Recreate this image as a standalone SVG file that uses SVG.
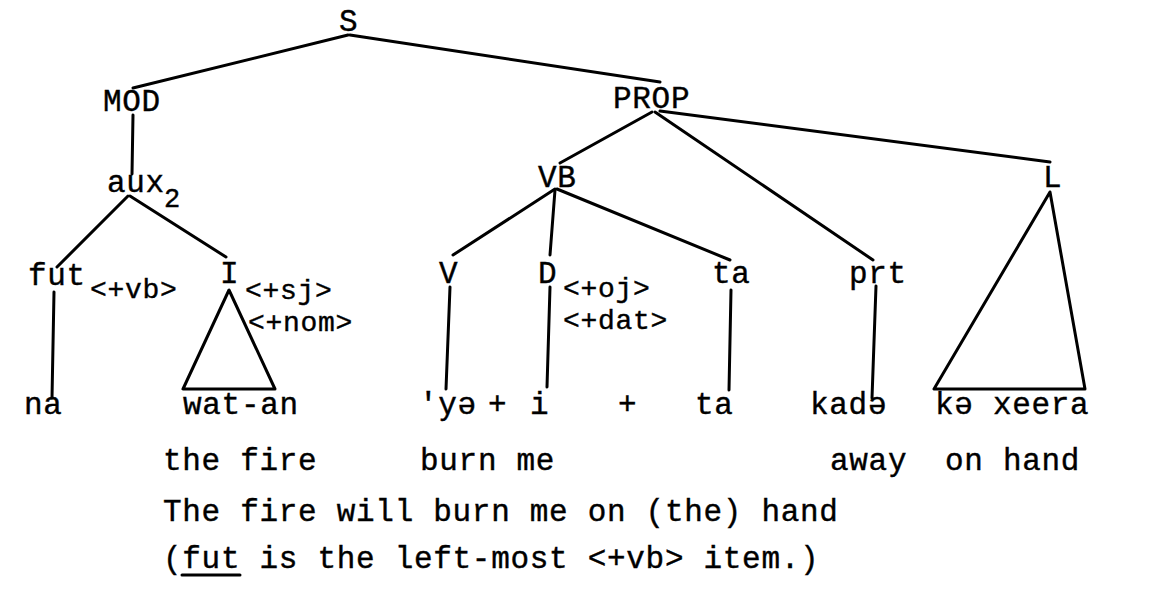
<svg xmlns="http://www.w3.org/2000/svg" width="1150" height="608" viewBox="0 0 1150 608">
<style>
text{font-family:"Liberation Mono","DejaVu Sans Mono",monospace;font-size:31px;letter-spacing:0.7px;fill:#000;stroke:#000;stroke-width:0.4}
.sub{font-size:27px}
.f{font-size:28px;letter-spacing:0.7px}
.e{stroke:#000;stroke-width:3;fill:none;stroke-linecap:round;stroke-linejoin:round}
</style>
<rect width="1150" height="608" fill="#fff"/>
<g id="connectors" class="e">
<line x1="348" y1="35" x2="133" y2="88"/>
<line x1="350" y1="35" x2="660" y2="82"/>
<line x1="133" y1="115" x2="132" y2="174"/>
<line x1="128" y1="196" x2="57" y2="267"/>
<line x1="130" y1="196" x2="226" y2="257"/>
<line x1="54" y1="292" x2="52" y2="398"/>
<polygon points="229,290 183,389 275,389"/>
<line x1="652" y1="112" x2="560" y2="163"/>
<line x1="655" y1="112" x2="873" y2="260"/>
<line x1="660" y1="111" x2="1050" y2="162"/>
<line x1="555" y1="189" x2="453" y2="255"/>
<line x1="555" y1="190" x2="550" y2="255"/>
<line x1="557" y1="189" x2="730" y2="260"/>
<line x1="450" y1="287" x2="446" y2="389"/>
<line x1="550" y1="287" x2="547" y2="387"/>
<line x1="731" y1="290" x2="729" y2="390"/>
<line x1="876" y1="286" x2="872" y2="398"/>
<polygon points="1050,192 934,389 1085,389"/>
<line x1="182" y1="575" x2="240" y2="575"/>
</g>
<g id="n-S"><text x="339" y="31">S</text></g>
<g id="n-MOD"><text x="103" y="111">MOD</text></g>
<g id="n-PROP"><text x="613" y="108">PROP</text></g>
<g id="n-aux2"><text x="107" y="192">aux</text><text class="sub" x="164" y="207">2</text></g>
<g id="n-VB"><text x="538" y="187">VB</text></g>
<g id="n-L"><text x="1043" y="187">L</text></g>
<g id="n-fut"><text x="28" y="285">fut</text><text class="f" x="90" y="298">&lt;+vb&gt;</text></g>
<g id="n-I"><text x="220" y="283">I</text><text class="f" x="245" y="299">&lt;+sj&gt;</text><text class="f" x="248" y="331">&lt;+nom&gt;</text></g>
<g id="n-V"><text x="439" y="283">V</text></g>
<g id="n-D"><text x="538" y="283">D</text><text class="f" x="563" y="297">&lt;+oj&gt;</text><text class="f" x="563" y="329">&lt;+dat&gt;</text></g>
<g id="n-ta"><text x="712" y="283">ta</text></g>
<g id="n-prt"><text x="849" y="283">prt</text></g>
<g id="n-na"><text x="24" y="414">na</text></g>
<g id="n-watan"><text x="183" y="414">wat-an</text></g>
<g id="n-ye"><text x="419" y="414">'yə</text></g>
<g id="n-plus1"><text x="488" y="414">+</text></g>
<g id="n-i"><text x="530" y="414">i</text></g>
<g id="n-plus2"><text x="618" y="414">+</text></g>
<g id="n-ta2"><text x="695" y="414">ta</text></g>
<g id="n-kade"><text x="810" y="414">kadə</text></g>
<g id="n-kexeera"><text x="935" y="414">kə xeera</text></g>
<g id="glosses">
<text x="163" y="470">the fire</text>
<text x="420" y="470">burn me</text>
<text x="830" y="470">away</text>
<text x="945" y="470">on hand</text>
</g>
<g id="translation"><text x="163" y="521">The fire will burn me on (the) hand</text></g>
<g id="note"><text x="163" y="568">(fut is the left-most &lt;+vb&gt; item.)</text></g>
</svg>
